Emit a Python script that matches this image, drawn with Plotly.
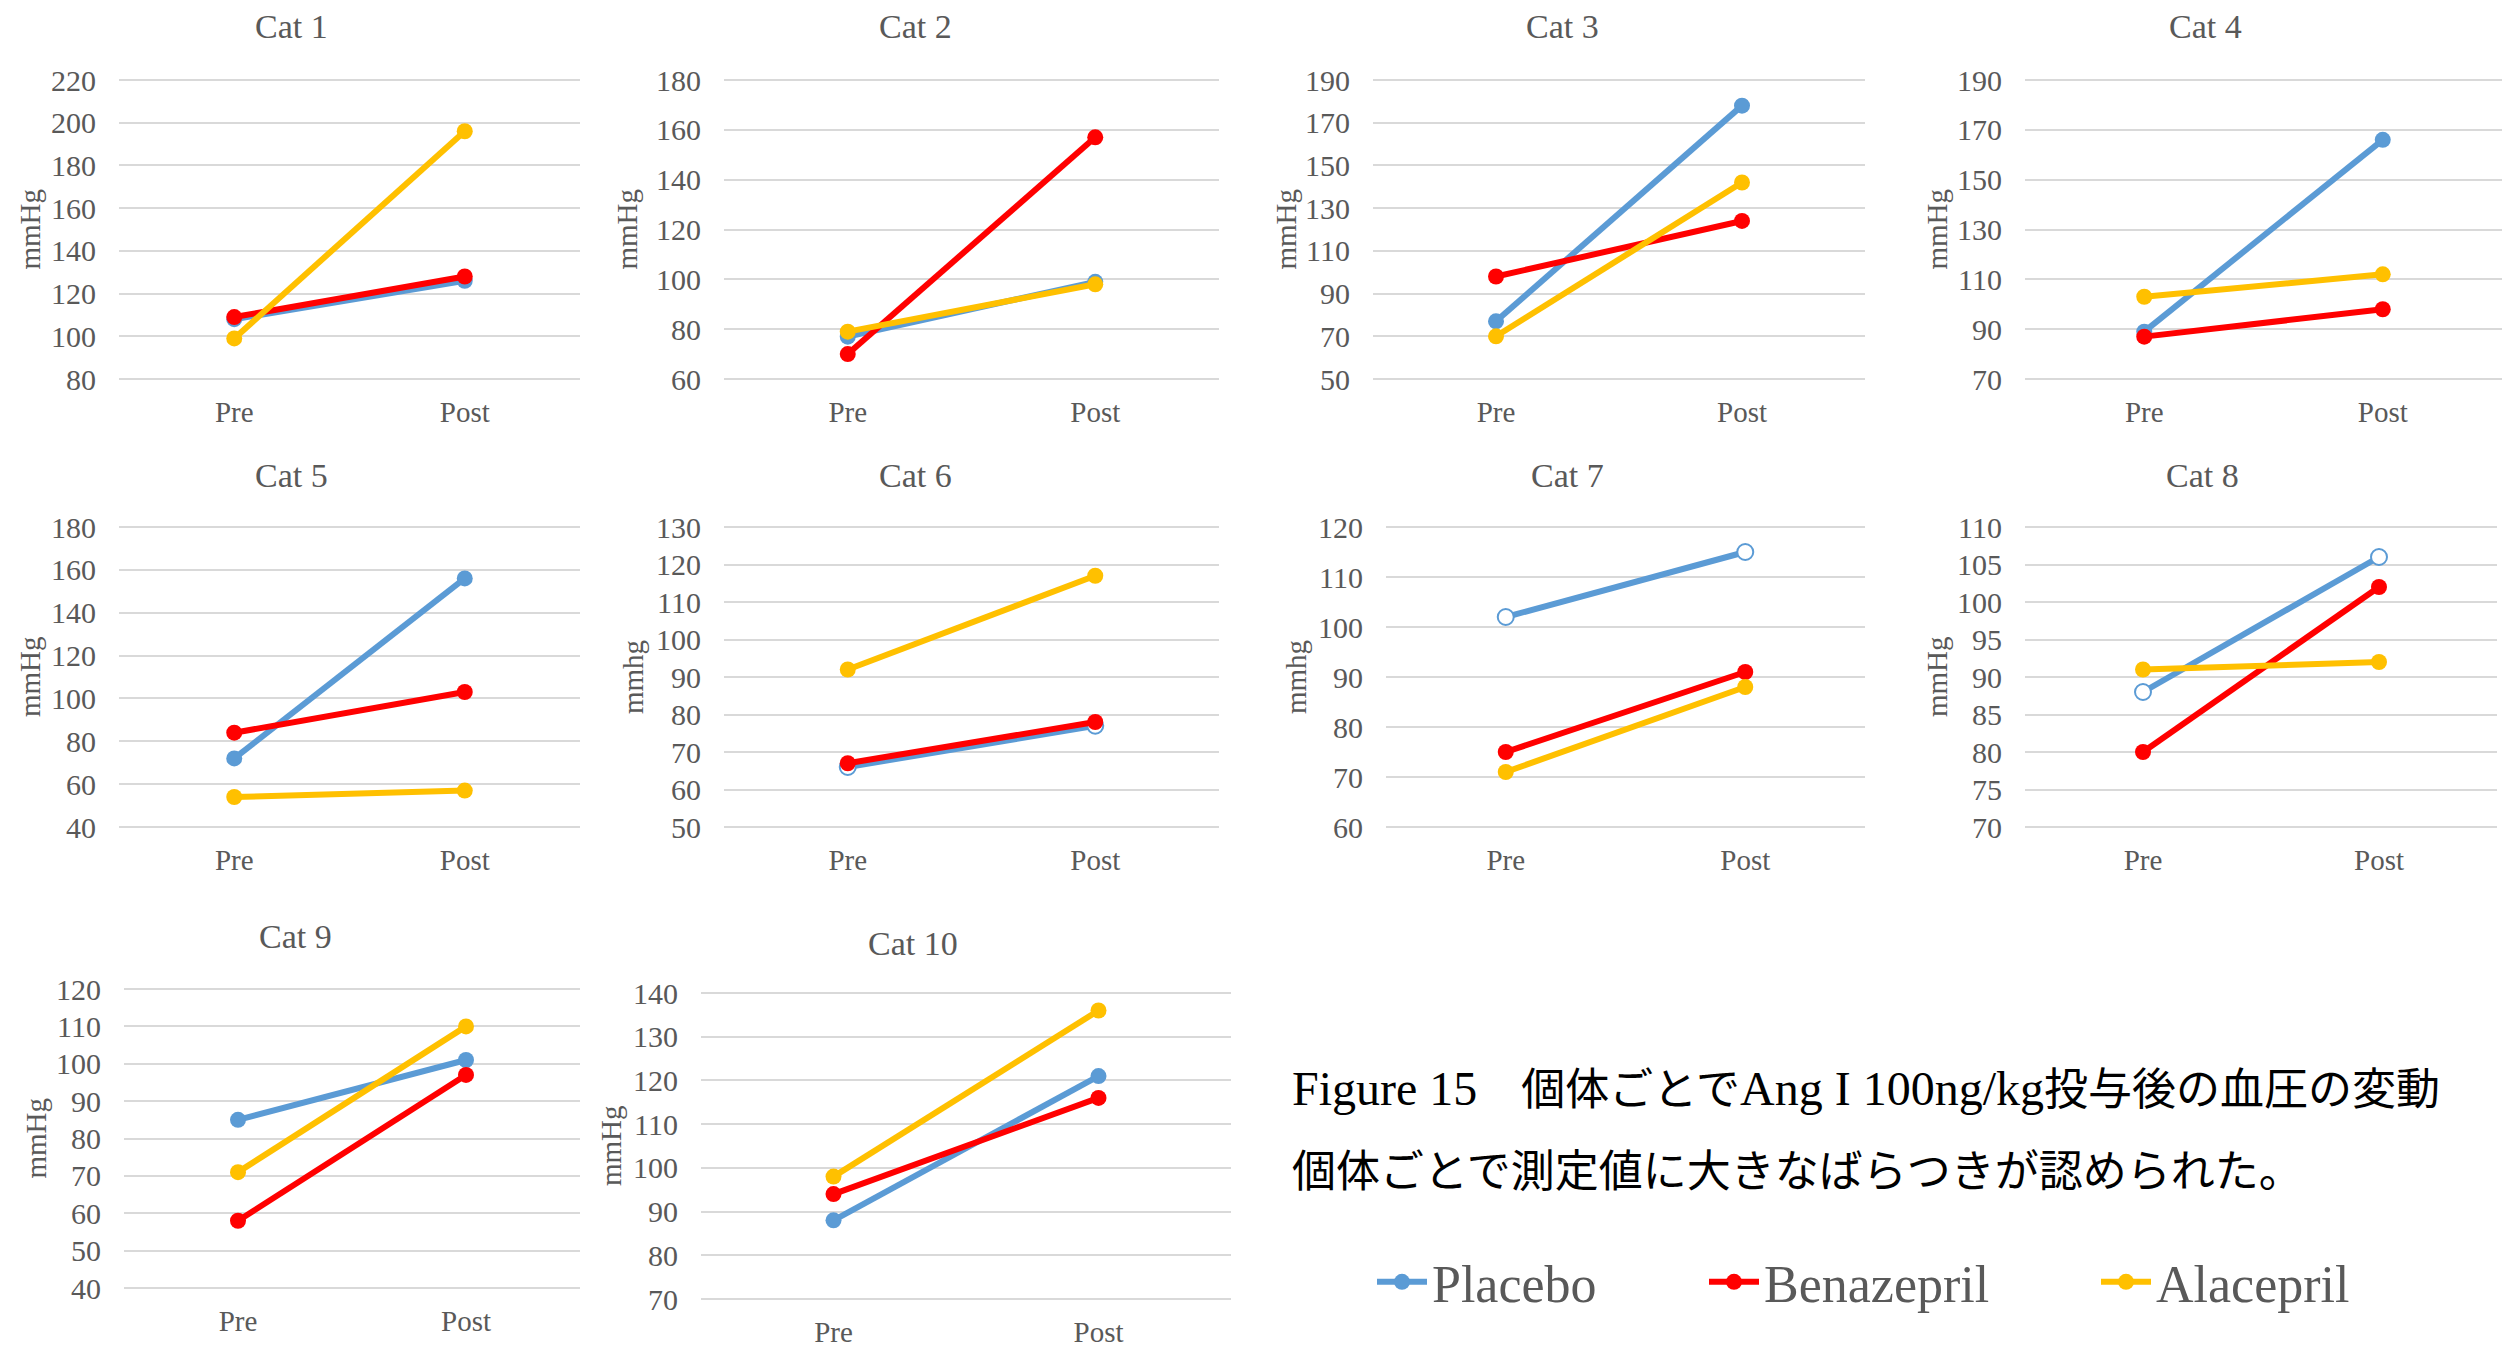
import plotly.graph_objects as go

W, H = 2504, 1347

# ---------------- data ----------------
cats = ["Cat 1", "Cat 2", "Cat 3", "Cat 4", "Cat 5", "Cat 6", "Cat 7", "Cat 8", "Cat 9", "Cat 10"]
phases = ["Pre", "Post"]
series_names = ["Placebo", "Benazepril", "Alacepril"]

placebo = [[108, 126], [77, 99], [77, 178], [89, 166], [72, 156],
           [66, 77], [102, 115], [88, 106], [85, 101], [88, 121]]
benazepril = [[109, 128], [70, 157], [98, 124], [87, 98], [84, 103],
              [67, 78], [75, 91], [80, 102], [58, 97], [94, 116]]
alacepril = [[99, 196], [79, 98], [70, 142], [103, 112], [54, 57],
             [92, 117], [71, 88], [91, 92], [71, 110], [98, 136]]

y_min = [80, 60, 50, 70, 40, 50, 60, 70, 40, 70]
y_max = [220, 180, 190, 190, 180, 130, 120, 110, 120, 140]
y_step = [20, 20, 20, 20, 20, 10, 10, 5, 10, 10]
y_titles = ["mmHg", "mmHg", "mmHg", "mmHg", "mmHg", "mmhg", "mmhg", "mmHg", "mmHg", "mmHg"]
placebo_hollow = [False, False, False, False, False, True, True, True, False, False]

caption1_latin_a = "Figure 15"
caption1_jp_a = "\u3000個体ごとで"
caption1_latin_b = "Ang I 100ng/kg"
caption1_jp_b = "投与後の血圧の変動"
caption2 = "個体ごとで測定値に大きなばらつきが認められた。"

# ---------------- styling / layout (pixels) ----------------
colors = ["#5B9BD5", "#FF0000", "#FFC000"]
TXT = "#595959"
SERIF = "Liberation Serif, Times New Roman, serif"

# plot boxes: left, right, top(max tick), bottom(min tick)
boxes = [
    (119, 580, 80, 379), (724, 1219, 80, 379), (1373, 1865, 80, 379), (2025, 2502, 80, 379),
    (119, 580, 527, 827), (724, 1219, 527, 827), (1386, 1865, 527, 827), (2025, 2497, 527, 827),
    (124, 580, 989, 1288), (701, 1231, 993, 1299),
]
title_pos = [(291, 27), (915, 27), (1562, 27), (2205, 27), (291, 475), (915, 475),
             (1567, 475), (2202, 475), (295, 936), (913, 943)]
ytitle_x = [30, 627, 1286, 1937, 30, 633, 1296, 1937, 35, 611]

fig = go.Figure()
series_data = [placebo, benazepril, alacepril]
legend_keys = ["legend", "legend2", "legend3"]

for i in range(len(cats)):
    ax = "" if i == 0 else str(i + 1)
    for s, name in enumerate(series_names):
        if s == 0 and placebo_hollow[i]:
            marker = dict(size=16, color="white", line=dict(color=colors[s], width=2))
        else:
            marker = dict(size=16, color=colors[s], line=dict(color=colors[s], width=0))
        fig.add_trace(go.Scatter(
            x=phases, y=series_data[s][i], name=name, mode="lines+markers",
            line=dict(color=colors[s], width=6), marker=marker,
            xaxis="x" + ax, yaxis="y" + ax,
            showlegend=(i == 0), legend=legend_keys[s],
        ))

    x0, x1, y0, y1 = boxes[i]
    pad = 5
    u = (y_max[i] - y_min[i]) / (y1 - y0)
    fig.layout["xaxis" + ax] = dict(
        domain=[x0 / W, x1 / W], type="category", categoryarray=phases,
        categoryorder="array", range=[-0.5, 1.5], showgrid=False, zeroline=False,
        showline=False, ticks="", ticklabelstandoff=8, automargin=False,
        tickfont=dict(family=SERIF, size=29, color=TXT),
        anchor="y" + ax, fixedrange=True,
    )
    fig.layout["yaxis" + ax] = dict(
        domain=[1 - (y1 + pad) / H, 1 - (y0 - pad) / H],
        range=[y_min[i] - pad * u, y_max[i] + pad * u],
        tickmode="linear", tick0=y_min[i], dtick=y_step[i],
        showgrid=True, gridcolor="#D9D9D9", gridwidth=2, zeroline=False,
        showline=False, ticks="", ticklabelstandoff=22, automargin=False,
        tickfont=dict(family=SERIF, size=30, color=TXT),
        anchor="x" + ax, fixedrange=True,
    )
    # chart title
    tx, ty = title_pos[i]
    fig.add_annotation(text=cats[i], x=tx / W, y=1 - ty / H, xref="paper", yref="paper",
                       xanchor="center", yanchor="middle", showarrow=False,
                       font=dict(family=SERIF, size=34, color=TXT))
    # y-axis title
    fig.add_annotation(text=y_titles[i], x=ytitle_x[i] / W, y=1 - ((y0 + y1) / 2) / H,
                       xref="paper", yref="paper", xanchor="center", yanchor="middle",
                       textangle=-90, showarrow=False,
                       font=dict(family=SERIF, size=29, color=TXT))

CAPFONT = "Liberation Serif, Noto Sans CJK JP, serif"
big = '<span style="font-size:48px">{}</span>'
caption1 = (big.format(caption1_latin_a) + caption1_jp_a +
            big.format(caption1_latin_b) + caption1_jp_b)
fig.add_annotation(text=caption1, x=1290 / W, y=1 - 1088 / H, xref="paper", yref="paper",
                   xanchor="left", yanchor="middle", showarrow=False,
                   font=dict(family=CAPFONT, size=44, color="#000000"))
fig.add_annotation(text=caption2, x=1290 / W, y=1 - 1172 / H, xref="paper", yref="paper",
                   xanchor="left", yanchor="middle", showarrow=False,
                   font=dict(family=CAPFONT, size=44, color="#000000"))

leg_x = [1372, 1704, 2096]
for k, key in enumerate(legend_keys):
    fig.layout[key] = dict(
        x=leg_x[k] / W, y=1 - 1282 / H, xanchor="left", yanchor="middle",
        orientation="h", bgcolor="rgba(0,0,0,0)", borderwidth=0, itemwidth=50,
        font=dict(family=SERIF, size=52, color=TXT),
    )

fig.update_layout(
    width=W, height=H, margin=dict(l=0, r=0, t=0, b=0, autoexpand=False),
    paper_bgcolor="white", plot_bgcolor="white",
)

fig.write_html(
    "out.html",
    config={"displayModeBar": False},
    post_script="document.body.style.margin='0px';document.body.style.overflow='hidden';",
)
